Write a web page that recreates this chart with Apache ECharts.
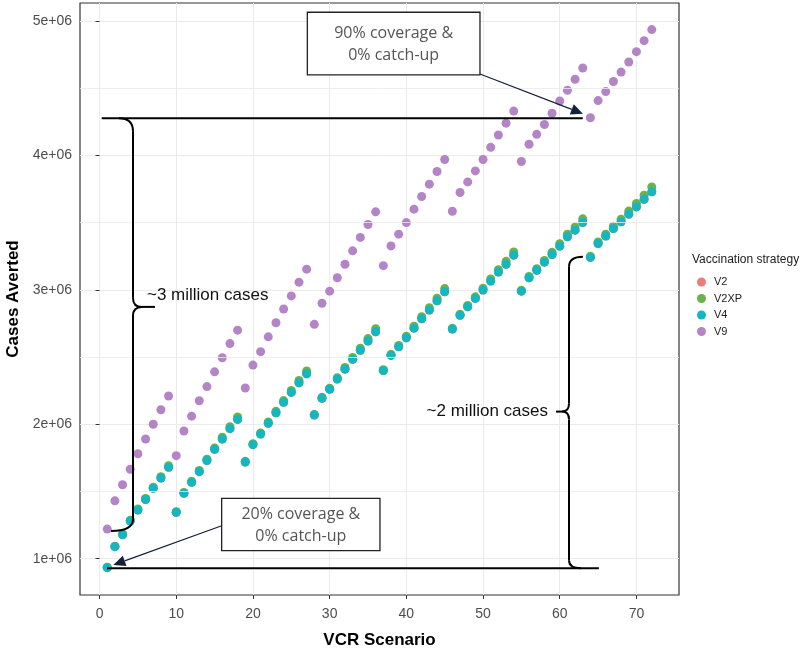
<!DOCTYPE html>
<html>
<head>
<meta charset="utf-8">
<script src="https://cdn.jsdelivr.net/npm/echarts@6/dist/echarts.min.js"></script>
<style>
html,body{margin:0;padding:0;background:#fff;}
#chart{width:800px;height:654px;}
</style>
</head>
<body>
<div id="chart"></div>
<script>
// ---------------- data ----------------
const scenario = [1,2,3,4,5,6,7,8,9,10,11,12,13,14,15,16,17,18,19,20,21,22,23,24,25,26,27,28,29,30,31,32,33,34,35,36,
  37,38,39,40,41,42,43,44,45,46,47,48,49,50,51,52,53,54,55,56,57,58,59,60,61,62,63,64,65,66,67,68,69,70,71,72];

const v4 = [
  0.933e6,1.089e6,1.178e6,1.280e6,1.362e6,1.440e6,1.523e6,1.600e6,1.680e6,
  1.345e6,1.486e6,1.568e6,1.647e6,1.730e6,1.813e6,1.890e6,1.967e6,2.036e6,
  1.719e6,1.848e6,1.927e6,2.007e6,2.085e6,2.163e6,2.237e6,2.309e6,2.376e6,
  2.068e6,2.193e6,2.260e6,2.336e6,2.410e6,2.483e6,2.550e6,2.619e6,2.688e6,
  2.400e6,2.512e6,2.576e6,2.643e6,2.715e6,2.784e6,2.849e6,2.918e6,2.985e6,
  2.708e6,2.810e6,2.874e6,2.936e6,2.998e6,3.065e6,3.132e6,3.190e6,3.258e6,
  2.990e6,3.090e6,3.146e6,3.206e6,3.263e6,3.325e6,3.394e6,3.444e6,3.501e6,
  3.241e6,3.345e6,3.400e6,3.456e6,3.506e6,3.563e6,3.617e6,3.674e6,3.729e6
];
const v2 = [
  0.933e6,1.089e6,1.178e6,1.280e6,1.362e6,1.440e6,1.523e6,1.600e6,1.680e6,
  1.345e6,1.486e6,1.568e6,1.647e6,1.730e6,1.813e6,1.890e6,1.967e6,2.036e6,
  1.719e6,1.848e6,1.927e6,2.007e6,2.085e6,2.163e6,2.237e6,2.309e6,2.376e6,
  2.068e6,2.193e6,2.260e6,2.336e6,2.410e6,2.483e6,2.550e6,2.619e6,2.688e6,
  2.400e6,2.512e6,2.576e6,2.643e6,2.715e6,2.784e6,2.849e6,2.918e6,2.985e6,
  2.708e6,2.810e6,2.874e6,2.936e6,2.998e6,3.065e6,3.132e6,3.190e6,3.258e6,
  2.990e6,3.090e6,3.146e6,3.206e6,3.263e6,3.325e6,3.394e6,3.444e6,3.501e6,
  3.241e6,3.345e6,3.400e6,3.456e6,3.506e6,3.563e6,3.617e6,3.674e6,3.729e6
];
const v2xp = [
  0.936e6,1.093e6,1.183e6,1.286e6,1.369e6,1.448e6,1.532e6,1.610e6,1.691e6,
  1.349e6,1.492e6,1.575e6,1.656e6,1.740e6,1.824e6,1.903e6,1.981e6,2.054e6,
  1.724e6,1.855e6,1.935e6,2.017e6,2.096e6,2.176e6,2.251e6,2.325e6,2.396e6,
  2.073e6,2.200e6,2.268e6,2.346e6,2.422e6,2.497e6,2.566e6,2.637e6,2.710e6,
  2.406e6,2.520e6,2.586e6,2.655e6,2.729e6,2.800e6,2.867e6,2.938e6,3.009e6,
  2.714e6,2.818e6,2.884e6,2.948e6,3.012e6,3.081e6,3.150e6,3.212e6,3.282e6,
  2.997e6,3.099e6,3.157e6,3.219e6,3.279e6,3.343e6,3.414e6,3.467e6,3.528e6,
  3.249e6,3.356e6,3.414e6,3.473e6,3.526e6,3.586e6,3.643e6,3.704e6,3.765e6
];
const v9 = [
  1.220e6,1.430e6,1.550e6,1.665e6,1.780e6,1.890e6,2.000e6,2.108e6,2.210e6,
  1.766e6,1.950e6,2.060e6,2.175e6,2.280e6,2.390e6,2.495e6,2.600e6,2.700e6,
  2.270e6,2.440e6,2.540e6,2.650e6,2.755e6,2.857e6,2.955e6,3.057e6,3.154e6,
  2.743e6,2.900e6,2.990e6,3.090e6,3.190e6,3.290e6,3.390e6,3.486e6,3.580e6,
  3.180e6,3.327e6,3.414e6,3.500e6,3.600e6,3.694e6,3.786e6,3.880e6,3.970e6,
  3.585e6,3.724e6,3.803e6,3.885e6,3.970e6,4.060e6,4.152e6,4.240e6,4.330e6,
  3.955e6,4.083e6,4.157e6,4.230e6,4.314e6,4.405e6,4.485e6,4.567e6,4.650e6,
  4.280e6,4.408e6,4.475e6,4.550e6,4.620e6,4.695e6,4.772e6,4.854e6,4.936e6
];
const seriesNames = ['V2','V2XP','V4','V9'];
const xTicks = [0,10,20,30,40,50,60,70];
const yTicks = [1e6,2e6,3e6,4e6,5e6];
const yMinorBreaks = [1.5e6,2.5e6,3.5e6,4.5e6];

// ---------------- styles ----------------
const colors = {V2:'#EE7D7A', V2XP:'#6CB24A', V4:'#12B7C1', V9:'#B485C6'};
const gridCol = '#EBEBEB';
const FONT = '"Liberation Sans", Arial, sans-serif';

const chart = echarts.init(document.getElementById('chart'), null, {renderer:'canvas'});

function pts(vals){ return scenario.map((s,i)=>[s, vals[i]]); }
function sc(name, vals){
  return {
    name, type:'scatter', data: pts(vals), symbolSize: 9, z: 3,
    itemStyle:{color: colors[name], opacity: 1},
    emphasis:{disabled:true}
  };
}

chart.setOption({
  animation:false,
  backgroundColor:'#fff',
  grid:{left:80, right:121, top:3, bottom:59, show:true, borderColor:'#333', borderWidth:1.2,
        containLabel:false, outerBoundsMode:'none'},
  xAxis:{
    type:'value', min:-2.55, max:75.55,
    name:'VCR Scenario', nameLocation:'middle', nameGap:37,
    nameTextStyle:{fontFamily:FONT, fontWeight:'bold', fontSize:17, color:'#000'},
    axisLine:{show:false},
    axisTick:{show:true, length:4, inside:false, customValues:xTicks, lineStyle:{color:'#333'}},
    axisLabel:{customValues:xTicks, margin:12, fontFamily:FONT, fontSize:14, color:'#4d4d4d'},
    splitLine:{show:true, lineStyle:{color:gridCol, width:1}}
  },
  yAxis:{
    type:'value', min:0.7295e6, max:5.134e6,
    name:'Cases Averted', nameLocation:'middle', nameGap:53,
    nameTextStyle:{fontFamily:FONT, fontWeight:'bold', fontSize:17, color:'#000'},
    axisLine:{show:false},
    axisTick:{show:true, length:4, customValues:yTicks, lineStyle:{color:'#333'}},
    axisLabel:{customValues:yTicks, margin:8, fontFamily:FONT, fontSize:14, color:'#4d4d4d',
      formatter: v => (Math.round(v/1e6)) + 'e+06'},
    splitLine:{show:true, lineStyle:{color:gridCol, width:1}}
  },
  legend:{
    data: seriesNames, orient:'vertical', left:692, top:271,
    icon:'circle', itemWidth:9, itemHeight:9, itemGap:4.5,
    textStyle:{fontFamily:FONT, fontSize:11, color:'#222', lineHeight:12, padding:[0,0,0,3]},
    selectedMode:false
  },
  series:[
    {name:'grid-minor', type:'line', data:[], z:1, silent:true,
     markLine:{silent:true, symbol:'none', label:{show:false}, animation:false,
       lineStyle:{color:gridCol, width:0.8, type:'solid'},
       emphasis:{disabled:true},
       data: yMinorBreaks.map(v=>({yAxis:v}))}},
    sc('V2', v2), sc('V2XP', v2xp), sc('V4', v4), sc('V9', v9)
  ]
});

// ---------------- annotations (anchored in data space) ----------------
const ann = {
  topLine:{y:4.277e6, x0:0.28, x1:63.0},
  botLine:{y:0.9286e6, x0:0.97, x1:65.1},
  brace3:{x:4.36, top:4.277e6, bot:1.206e6, mid:2.873e6},
  brace2:{x:61.21, top:3.247e6, bot:0.9286e6, mid:2.094e6},
  box1:{x0:27.09, y0:5.065e6, x1:49.6, y1:4.599e6, lines:['90% coverage &','0% catch-up']},
  box2:{x0:15.92, y0:1.449e6, x1:36.56, y1:1.06e6, lines:['20% coverage &','0% catch-up']},
  arrow1:{x0:49.6, y0:4.606e6, x1:63.03, y1:4.31e6},
  arrow2:{x0:15.83, y0:1.243e6, x1:1.8, y1:0.953e6}
};
function P(x,y){ return chart.convertToPixel({gridIndex:0},[x,y]); }

const g = [];
const LW = 2;
const stroke = {stroke:'#000', lineWidth:LW, fill:null};
function seg(x1,y1,x2,y2){ g.push({type:'line', z:100, shape:{x1,y1,x2,y2}, style:Object.assign({},stroke)}); }
function qc(x1,y1,cx,cy,x2,y2){ g.push({type:'bezierCurve', z:100, shape:{x1,y1,x2,y2,cpx1:cx,cpy1:cy}, style:Object.assign({},stroke)}); }
function hline(o){
  const a=P(o.x0,o.y), b=P(o.x1,o.y);
  seg(a[0],a[1],b[0],b[1]);
}
hline(ann.topLine); hline(ann.botLine);

// left brace "~3 million cases": nub points right
(function(){
  const o=ann.brace3;
  const t=P(o.x,o.top), b=P(o.x,o.bot), m=P(o.x,o.mid);
  const x=t[0], ty=t[1], by=b[1], my=m[1];
  qc(x-14,ty, x,ty, x,ty+13);
  seg(x,ty+13, x,my-9);
  qc(x,my-9, x,my, x+9,my);
  seg(x+9,my, x+22,my);
  qc(x+9,my, x,my, x,my+9);
  seg(x,my+9, x,by-12);
  qc(x,by-12, x,by, x-22,by);
  g.push({type:'text', z:101, x:x+14, y:my-12, style:{text:'~3 million cases', fontFamily:FONT, fontSize:17, fill:'#111', textAlign:'left', textVerticalAlign:'middle'}});
})();

// right brace "~2 million cases": nub points left
(function(){
  const o=ann.brace2;
  const t=P(o.x,o.top), b=P(o.x,o.bot), m=P(o.x,o.mid);
  const x=t[0], ty=t[1], by=b[1], my=m[1];
  qc(x+14,ty, x,ty, x,ty+10);
  seg(x,ty+10, x,my-8);
  qc(x,my-8, x,my, x-7,my);
  seg(x-7,my, x-13,my);
  qc(x-7,my, x,my, x,my+8);
  seg(x,my+8, x,by-8);
  qc(x,by-8, x,by, x+12,by);
  g.push({type:'text', z:101, x:x-21, y:my, style:{text:'~2 million cases', fontFamily:FONT, fontSize:17, fill:'#111', textAlign:'right', textVerticalAlign:'middle'}});
})();

function box(o){
  const a=P(o.x0,o.y0), b=P(o.x1,o.y1);
  g.push({type:'rect', z:100, shape:{x:a[0], y:a[1], width:b[0]-a[0], height:b[1]-a[1]},
    style:{fill:'#fff', stroke:'#222', lineWidth:1.3}});
  const cx=(a[0]+b[0])/2, cy=(a[1]+b[1])/2;
  g.push({type:'text', z:101, x:cx, y:cy-9.8, style:{text:o.lines[0], fontFamily:'"Open Sans", sans-serif', fontSize:16, fill:'#555', textAlign:'center', textVerticalAlign:'middle'}});
  g.push({type:'text', z:101, x:cx, y:cy+12.2, style:{text:o.lines[1], fontFamily:'"Open Sans", sans-serif', fontSize:16, fill:'#555', textAlign:'center', textVerticalAlign:'middle'}});
}
box(ann.box1); box(ann.box2);

function arrow(o){
  const a=P(o.x0,o.y0), b=P(o.x1,o.y1);
  const dx=b[0]-a[0], dy=b[1]-a[1], L=Math.hypot(dx,dy), ux=dx/L, uy=dy/L;
  const hl=12, hw=5.5;
  const bx=b[0]-ux*hl, by=b[1]-uy*hl;
  g.push({type:'line', z:100, shape:{x1:a[0],y1:a[1],x2:bx,y2:by}, style:{stroke:'#13213a', lineWidth:1.2}});
  g.push({type:'polygon', z:100, shape:{points:[[b[0],b[1]],[bx-uy*hw,by+ux*hw],[bx+uy*hw,by-ux*hw]]}, style:{fill:'#13213a'}});
}
arrow(ann.arrow1); arrow(ann.arrow2);

// legend title
g.push({type:'text', z:101, x:692, y:260, style:{text:'Vaccination strategy', fontFamily:FONT, fontSize:12, fill:'#222', textVerticalAlign:'middle'}});

chart.setOption({graphic:{elements:g}});
</script>
</body>
</html>
